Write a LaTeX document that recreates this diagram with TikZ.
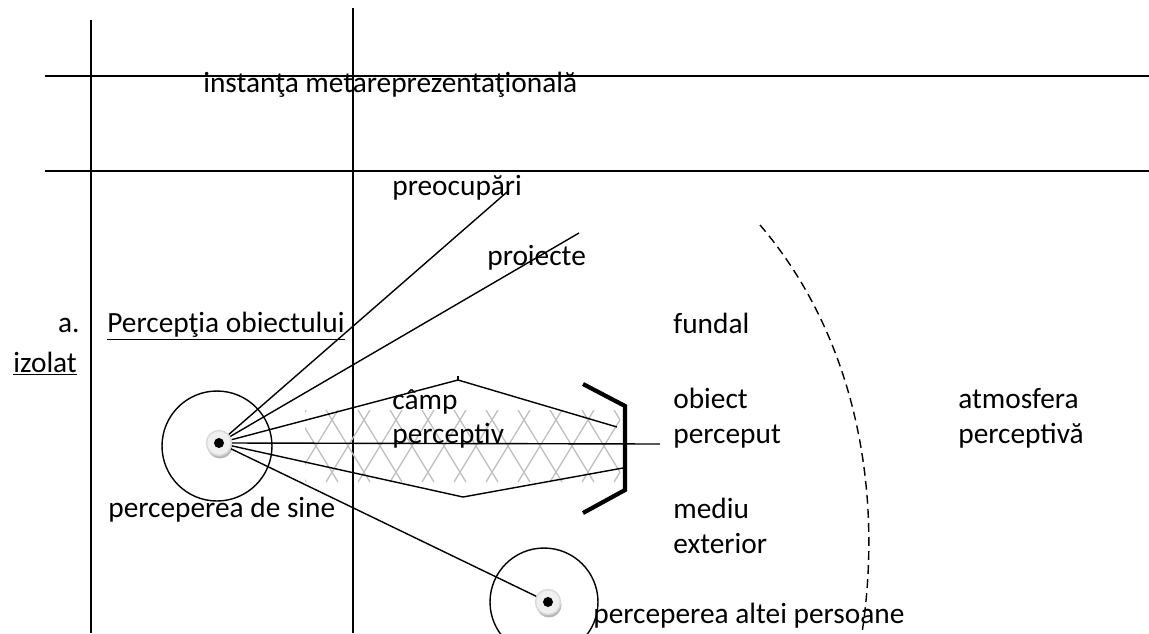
\documentclass[tikz,border=0pt]{standalone}
\usepackage{fontspec}
\setmainfont{Carlito}
\begin{document}
\begin{tikzpicture}
            [
                x=0.02cm, y=-0.02cm,
                eticheta/.style={anchor=base west, inner sep=0pt, font=\fontsize{16.7}{20}\selectfont},
                linie/.style={line width=0.8pt},
                ochi/.style={circle, fill=gray!12, draw=gray!30, line width=0.8pt, minimum size=0.5cm, inner sep=0pt},
                umbra/.style={circle, fill=gray!55, minimum size=0.5cm, inner sep=0pt},
                pupila/.style={circle, fill=black, minimum size=0.2cm, inner sep=0pt},
                hasura/.style={gray!50, line width=0.75pt},
            ]
            \useasboundingbox (0,0) rectangle (1149,633);
            % grila
            \draw[linie] (91,20) -- (91,633);
            \draw[linie] (353,8) -- (353,633);
            \draw[linie] (45,76) -- (1149,76);
            \draw[linie] (45,171) -- (1149,171);
            % hasura campului perceptiv
            \begin{scope}
                \clip (305,410) rectangle (620,482);
                \foreach \x in {230,262,...,660} {
                    \draw[hasura] (\x,482) -- ++(44,-72);
                    \draw[hasura] (\x,410) -- ++(44,72);
                }
            \end{scope}
            % cercuri
            \node[circle, draw, line width=0.8pt, minimum size=2.2cm] (sine) at (217,446) {};
            \node[circle, draw, line width=0.8pt, minimum size=2.16cm] (alta) at (544,602) {};
            % ochi
            \node[umbra] (umbra1) at (220,446) {};
            \node[ochi] (ochi1) at (219,443) {};
            \node[pupila] (pupila1) at (ochi1.center) {};
            \node[umbra] (umbra2) at (549,605) {};
            \node[ochi] (ochi2) at (548,602) {};
            \node[pupila] (pupila2) at (ochi2.center) {};
            % capete de linii
            \coordinate (preoc) at (507,192);
            \coordinate (proiect) at (579,233);
            \coordinate (sus) at (458,380);
            \coordinate (susdr) at (617,427);
            \coordinate (jos) at (463,497);
            \coordinate (josdr) at (623,468);
            \coordinate (orizont) at (660,444);
            % raze
            \draw[linie] (ochi1) -- (preoc);
            \draw[linie] (ochi1) -- (proiect);
            \draw[linie] (ochi1) -- (sus) -- (susdr);
            \draw[linie] (ochi1) -- (jos) -- (josdr);
            \draw[linie] (ochi1.east) -- (orizont);
            \draw[linie] (ochi1) -- (ochi2);
            \draw[linie] (sus) -- ++(0,-4);
            % obiect
            \draw[line width=2.4pt] (583,384) -- (625,406) -- (625,490) -- (583,513);
            % atmosfera
            \draw[linie, dash pattern=on 5pt off 3pt] (760,225) .. controls (850,330) and (885,480) .. (862,633);
            % texte
            \node[eticheta] (meta) at (203,92) {instanţa metareprezentaţională};
            \node[eticheta] (preocupari) at (392,195) {preocupări};
            \node[eticheta] (proiecte) at (487,265) {proiecte};
            \node[eticheta, anchor=base east] (a) at (80,332) {a.};
            \node[eticheta] (perceptia) at (107,332) {\underline{Percepţia obiectului}};
            \node[eticheta] (izolat) at (13,372) {\underline{izolat}};
            \node[eticheta] (camp) at (392,409) {câmp};
            \node[eticheta] (perceptiv) at (392,443) {perceptiv};
            \node[eticheta] (fundal) at (673,333) {fundal};
            \node[eticheta] (obiect) at (673,408) {obiect};
            \node[eticheta] (perceput) at (673,443) {perceput};
            \node[eticheta] (mediu) at (673,518) {mediu};
            \node[eticheta] (exterior) at (673,553) {exterior};
            \node[eticheta] (atmosfera) at (958,408) {atmosfera};
            \node[eticheta] (perceptiva) at (958,443) {perceptivă};
            \node[eticheta] (sinetext) at (108,517) {perceperea de sine};
            \node[eticheta] (altatext) at (593,623) {perceperea altei persoane};
        \end{tikzpicture}
\end{document}
